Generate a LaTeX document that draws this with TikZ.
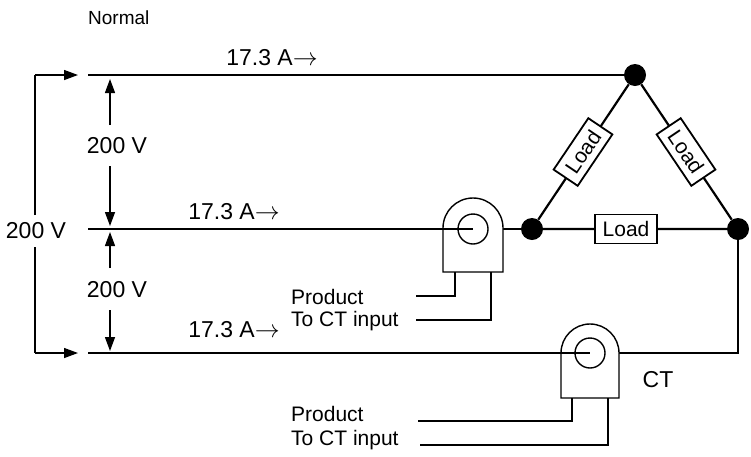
\documentclass[tikz,border=0pt]{standalone}
\usepackage{fontspec}
\setmainfont{Liberation Sans}
\usetikzlibrary{arrows.meta}
\begin{document}
\begin{tikzpicture}[x=1pt,y=-1pt,
  wire/.style={line width=2.2pt},
  thin/.style={line width=1.4pt},
  dotnode/.style={circle,fill=black,inner sep=0pt,minimum size=22pt},
  loadbox/.style={draw,fill=white,line width=1.8pt,inner sep=2pt,minimum width=62pt,minimum height=29pt,font=\fontsize{21}{21}\selectfont},
  lbl/.style={font=\fontsize{23}{23}\selectfont,inner sep=1pt},
  arr/.style={line width=1.3pt,-{Triangle[length=14pt,width=10pt]}}]
\useasboundingbox (0,0) rectangle (751,456);
\node[font=\fontsize{19}{19}\selectfont,anchor=west,inner sep=1pt] (normal) at (87,18) {Normal};
% nodes
\coordinate (l1) at (88,75);
\coordinate (l2) at (88,229);
\coordinate (l3) at (88,353);
\node[dotnode] (top) at (635,75) {};
\node[dotnode] (bl) at (532,229) {};
\node[dotnode] (br) at (738,229) {};
\coordinate (brb) at (738,353);
% wires
\draw[wire] (l1) -- (top);
\draw[wire] (l2) -- (bl);
\draw[wire] (l3) -- (brb) -- (br);
\draw[wire] (bl) -- (top) -- (br) -- (bl);
\node[loadbox,rotate=56] (ld1) at (583,152) {Load};
\node[loadbox,rotate=-56] (ld2) at (686,152) {Load};
\node[loadbox] (ld3) at (626,229) {Load};
% CT1
\draw[thin,fill=white] (443,272) -- (443,228) arc[start angle=180,end angle=360,radius=30] -- (503,272) -- cycle;
\draw[wire] (l2) -- (473,229);
\draw[thin] (473,229) circle[radius=15];
\draw[thin] (455,272) |- (416,296);
\draw[thin] (491,272) |- (416,320);
% CT2
\draw[thin,fill=white] (561,398) -- (561,353) arc[start angle=180,end angle=360,radius=29] -- (619,398) -- cycle;
\draw[wire] (l3) -- (590,353);
\draw[thin] (590,353) circle[radius=15];
\draw[thin] (572,398) |- (418,421);
\draw[thin] (608,398) |- (420,445);
\node[lbl] (ct) at (658,380) {CT};
% labels
\node[lbl] (a1) at (272,58) {17.3 A$\rightarrow$};
\node[lbl] (a2) at (234,212) {17.3 A$\rightarrow$};
\node[lbl] (a3) at (234,330) {17.3 A$\rightarrow$};
\node[lbl] (v1) at (117,146) {200 V};
\node[lbl] (v2) at (117,290) {200 V};
\node[lbl] (v3) at (36,231) {200 V};
\node[lbl,anchor=west,font=\fontsize{21}{21}\selectfont] (p1) at (290,297) {Product};
\node[lbl,anchor=west,font=\fontsize{21}{21}\selectfont] (p2) at (290,321) {To CT input};
\node[lbl,anchor=west,font=\fontsize{21}{21}\selectfont] (p3) at (290,414) {Product};
\node[lbl,anchor=west,font=\fontsize{21}{21}\selectfont] (p4) at (290,440) {To CT input};
% voltage arrows
\draw[arr] (110,125) -- (110,79);
\draw[arr] (110,166) -- (110,226);
\draw[arr] (110,268) -- (110,232);
\draw[arr] (110,310) -- (110,351);
\draw[line width=1.3pt] (35,215) -- (35,75);
\draw[arr] (35,75) -- (78,75);
\draw[line width=1.3pt] (35,247) -- (35,353);
\draw[arr] (35,353) -- (78,353);
\end{tikzpicture}
\end{document}
